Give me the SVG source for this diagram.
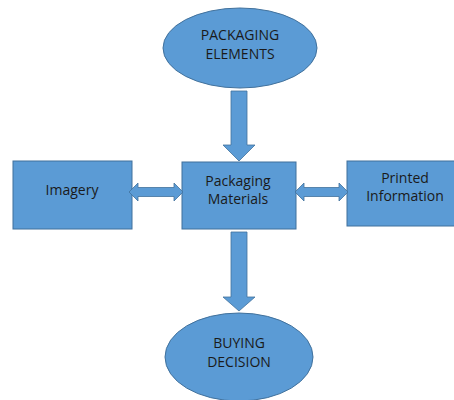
<svg xmlns="http://www.w3.org/2000/svg" width="454" height="400" viewBox="0 0 454 400">
<style>
.shape{fill:#5B9BD5;stroke:#41719C;stroke-width:1}
.arrow{fill:#5B9BD5;stroke:#41719C;stroke-width:0.8}
text{font-family:"Open Sans","Liberation Sans",sans-serif;font-size:14px;fill:#1a1a1a;text-anchor:middle}
</style>
<rect width="454" height="400" fill="#ffffff"/>
<g id="packaging-elements">
<ellipse class="shape" cx="240" cy="48" rx="77" ry="40"/>
<text x="240" y="40">PACKAGING</text>
<text x="240" y="59">ELEMENTS</text>
</g>
<g id="imagery">
<rect class="shape" x="13" y="161" width="119" height="68"/>
<text x="72" y="195">Imagery</text>
</g>
<g id="packaging-materials">
<rect class="shape" x="182" y="162" width="114" height="67"/>
<text x="238" y="186">Packaging</text>
<text x="238" y="204">Materials</text>
</g>
<g id="printed-information">
<rect class="shape" x="347" y="161" width="110" height="65"/>
<text x="405" y="183">Printed</text>
<text x="405" y="201">Information</text>
</g>
<g id="buying-decision">
<ellipse class="shape" cx="239" cy="357" rx="74" ry="44"/>
<text x="239" y="348">BUYING</text>
<text x="239" y="367">DECISION</text>
</g>
<g id="connectors">
<polygon class="arrow" points="231,91 247,91 247,145 255,145 239,161 223,145 231,145"/>
<polygon class="arrow" points="231,232 247,232 247,297 255,297 239,311 223,297 231,297"/>
<polygon class="arrow" points="129,192 138,183 138,187.5 174,187.5 174,183 183,192 174,201 174,196.5 138,196.5 138,201"/>
<polygon class="arrow" points="295,192 304,183 304,187.5 339,187.5 339,183 348,192 339,201 339,196.5 304,196.5 304,201"/>
</g>
</svg>
